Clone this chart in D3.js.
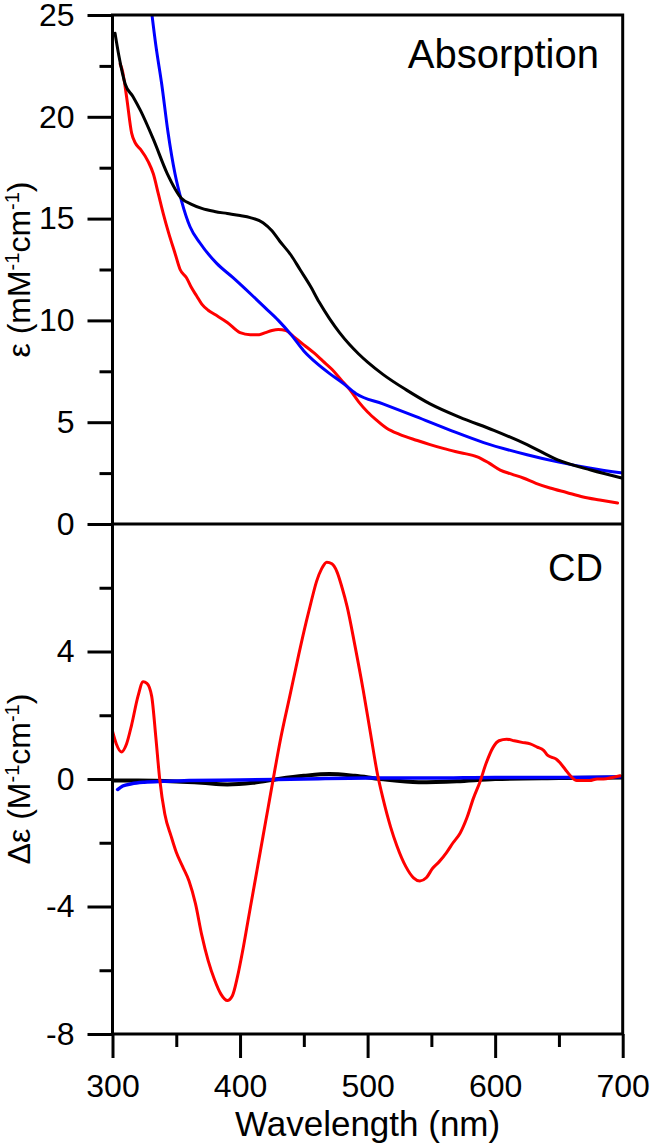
<!DOCTYPE html>
<html>
<head>
<meta charset="utf-8">
<script src="https://cdn.jsdelivr.net/npm/d3@7/dist/d3.min.js"></script>
<style>
  html, body { margin: 0; padding: 0; background: #fff; }
  svg { display: block; }
  text { font-family: "Liberation Sans", Arial, sans-serif; fill: #000; }
</style>
</head>
<body>
<svg id="chart" width="650" height="1147"></svg>
<script>
// ---------- data ----------
const xTicks = [300, 400, 500, 600, 700];
const xMinor = [350, 450, 550, 650];
const absTicks = [0, 5, 10, 15, 20, 25];
const absMinor = [2.5, 7.5, 12.5, 17.5, 22.5];
const cdTicks = [-8, -4, 0, 4];
const cdMinor = [-6, -2, 2, 6];

// Absorption (mM-1 cm-1)
const absBlackW = [302,305,310,316,322,332,343,354,362,370,380,390,400,408,418,425,431,440,447,455,462,470,478,486,493,500,512,530,549,572,599,625,649,675,700];
const absBlackV = [24.1,23.0,21.6,21.0,20.3,18.9,17.2,16.0,15.7,15.5,15.35,15.25,15.15,15.05,14.8,14.4,13.9,13.2,12.5,11.7,10.9,10.1,9.4,8.8,8.35,7.95,7.35,6.6,5.9,5.25,4.6,3.9,3.15,2.65,2.25];

const absBlueW = [330,334,338.6,343.6,349,354,360.8,368.6,381.7,394.5,410,420,430,440,450,460,470,480,491,512,538,565,591,625,649,675,700];
const absBlueV = [25.5,23.5,21.6,19.2,17.2,15.9,14.6,13.8,12.8,12.1,11.2,10.6,10.0,9.3,8.5,7.9,7.4,6.95,6.4,5.9,5.27,4.6,4.0,3.4,3.05,2.74,2.5];

const absRedW = [306,308,311,315,318,322,328,332,336,340,344,349,353,358,362,366,370,375,380,390,400,408,415,420,425,430,436,442,450,458,465,472,479,486,493,500,507,515,525,539,549,560,573,586,595,604,613,622,632,643,656,669,682,696];
const absRedV = [22.6,22.2,21.0,19.2,18.7,18.4,17.8,17.2,16.2,15.2,14.3,13.3,12.5,12.1,11.6,11.2,10.8,10.5,10.3,9.9,9.4,9.3,9.3,9.4,9.5,9.55,9.5,9.2,8.8,8.4,8.0,7.6,7.1,6.6,6.0,5.5,5.1,4.7,4.4,4.1,3.9,3.7,3.5,3.3,3.0,2.65,2.45,2.26,2.0,1.77,1.55,1.33,1.18,1.03];

// CD (M-1 cm-1)
const cdRedW = [300,303,307,311,315,320,324,327,330.7,334,337,341,346,350,355,360,365,370,375,380,385,390,394,398,402,406,410,414,418,422,426,432,439,446,452,456,460,464,468,472,476,480,484,490,496.5,502,508,512,518,523,530,536,541,546,551,556,562,567,572.5,578,583,588,593,598.5,603,609,615,621,627.5,633,638,641,644.5,648,651,655,659,664,669,674,680,685,692,698];
const cdRedV = [1.5,1.1,0.85,1.1,1.7,2.6,3.05,3.0,2.6,1.3,0.0,-1.1,-1.8,-2.3,-2.75,-3.2,-3.9,-4.9,-5.7,-6.3,-6.75,-6.95,-6.8,-6.2,-5.4,-4.5,-3.6,-2.7,-1.8,-0.9,0.0,1.3,2.6,3.9,4.95,5.6,6.2,6.6,6.8,6.75,6.5,6.0,5.4,4.2,2.8,1.5,0.1,-0.6,-1.5,-2.1,-2.75,-3.1,-3.2,-3.1,-2.8,-2.6,-2.3,-2.0,-1.7,-1.2,-0.6,-0.1,0.5,1.0,1.2,1.25,1.2,1.15,1.1,1.0,0.9,0.75,0.68,0.62,0.5,0.3,0.1,-0.05,-0.05,-0.05,0.0,0.0,0.05,0.1];

const cdBlackW = [300,320,350,370,390,410,430,450,470,490,510,540,570,600,650,700];
const cdBlackV = [-0.05,-0.05,-0.08,-0.12,-0.17,-0.12,0.0,0.1,0.16,0.1,0.0,-0.1,-0.07,0.0,0.03,0.05];

const cdBlueW = [304,308,315,325,340,360,400,450,500,550,600,650,700];
const cdBlueV = [-0.33,-0.22,-0.15,-0.1,-0.07,-0.05,-0.03,0.0,0.03,0.03,0.05,0.05,0.07];

// ---------- layout ----------
const svg = d3.select("#chart");
const left = 112.5, right = 622.7;
const absTop = 15, split = 524, cdBottom = 1034;

const x = d3.scaleLinear().domain([300, 700]).range([left, right]);
const yAbs = d3.scaleLinear().domain([0, 25]).range([split, absTop]);
const yCD = d3.scaleLinear().domain([-8, 8]).range([cdBottom, split]);

const zip = (w, v) => w.map((d, i) => [d, v[i]]);

const defs = svg.append("defs");
defs.append("clipPath").attr("id", "clipAbs").append("rect")
  .attr("x", left).attr("y", absTop).attr("width", right - left).attr("height", split - absTop);
defs.append("clipPath").attr("id", "clipCD").append("rect")
  .attr("x", left).attr("y", split).attr("width", right - left).attr("height", cdBottom - split);

function drawLine(g, data, y, color, width) {
  g.append("path")
    .datum(data)
    .attr("fill", "none")
    .attr("stroke", color)
    .attr("stroke-width", width)
    .attr("stroke-linejoin", "round")
    .attr("stroke-linecap", "round")
    .attr("d", d3.line().x(d => x(d[0])).y(d => y(d[1])).curve(d3.curveMonotoneX));
}

const gAbs = svg.append("g").attr("clip-path", "url(#clipAbs)");
drawLine(gAbs, zip(absRedW, absRedV), yAbs, "#ff0000", 3);
drawLine(gAbs, zip(absBlueW, absBlueV), yAbs, "#0000ff", 3);
drawLine(gAbs, zip(absBlackW, absBlackV), yAbs, "#000000", 3);

const gCD = svg.append("g").attr("clip-path", "url(#clipCD)");
drawLine(gCD, zip(cdBlackW, cdBlackV), yCD, "#000000", 4);
drawLine(gCD, zip(cdBlueW, cdBlueV), yCD, "#0000ff", 3.5);
drawLine(gCD, zip(cdRedW, cdRedV), yCD, "#ff0000", 3);

// ---------- axes ----------
function styleAxis(g) {
  g.select(".domain").remove();
  g.selectAll(".tick line").attr("stroke", "#000").attr("stroke-width", 3);
  g.selectAll(".tick text").attr("font-size", 32).attr("font-family", "'Liberation Sans', Arial, sans-serif").attr("fill", "#000");
}
const fmt = d => String(d);

svg.append("g").attr("transform", `translate(${left},0)`)
  .call(d3.axisLeft(yAbs).tickValues(absTicks).tickSize(25).tickPadding(13).tickFormat(fmt))
  .call(styleAxis);
svg.append("g").attr("transform", `translate(${left},0)`)
  .call(d3.axisLeft(yAbs).tickValues(absMinor).tickSize(13).tickFormat(""))
  .call(styleAxis);

svg.append("g").attr("transform", `translate(${left},0)`)
  .call(d3.axisLeft(yCD).tickValues(cdTicks).tickSize(25).tickPadding(13).tickFormat(fmt))
  .call(styleAxis);
svg.append("g").attr("transform", `translate(${left},0)`)
  .call(d3.axisLeft(yCD).tickValues(cdMinor).tickSize(13).tickFormat(""))
  .call(styleAxis);

svg.append("g").attr("transform", `translate(0,${cdBottom})`)
  .call(d3.axisBottom(x).tickValues(xTicks).tickSize(24).tickPadding(16).tickFormat(fmt))
  .call(styleAxis);
svg.append("g").attr("transform", `translate(0,${cdBottom})`)
  .call(d3.axisBottom(x).tickValues(xMinor).tickSize(13).tickFormat(""))
  .call(styleAxis);

// frames
const frame = svg.append("g").attr("fill", "none").attr("stroke", "#000").attr("stroke-width", 3);
frame.append("rect").attr("x", left).attr("y", absTop).attr("width", right - left).attr("height", cdBottom - absTop);
frame.append("line").attr("x1", left).attr("x2", right).attr("y1", split).attr("y2", split);

// panel titles
svg.append("text").attr("x", 599).attr("y", 68).attr("text-anchor", "end").attr("font-size", 40).text("Absorption");
svg.append("text").attr("x", 603).attr("y", 581).attr("text-anchor", "end").attr("font-size", 38).text("CD");

// axis titles
svg.append("text").attr("x", (left + right) / 2).attr("y", 1136).attr("text-anchor", "middle").attr("font-size", 35).text("Wavelength (nm)");

function yTitle(cy, parts) {
  const t = svg.append("text")
    .attr("transform", `translate(30,${cy}) rotate(-90)`)
    .attr("text-anchor", "middle")
    .attr("font-size", 32);
  parts.forEach(p => {
    const s = t.append("tspan").text(p.t);
    if (p.sup) s.attr("font-size", 20).attr("baseline-shift", "super");
  });
}
yTitle((absTop + split) / 2, [{t: "ε (mM"}, {t: "-1", sup: true}, {t: "cm"}, {t: "-1", sup: true}, {t: ")"}]);
yTitle((split + cdBottom) / 2, [{t: "Δε (M"}, {t: "-1", sup: true}, {t: "cm"}, {t: "-1", sup: true}, {t: ")"}]);
</script>
</body>
</html>
